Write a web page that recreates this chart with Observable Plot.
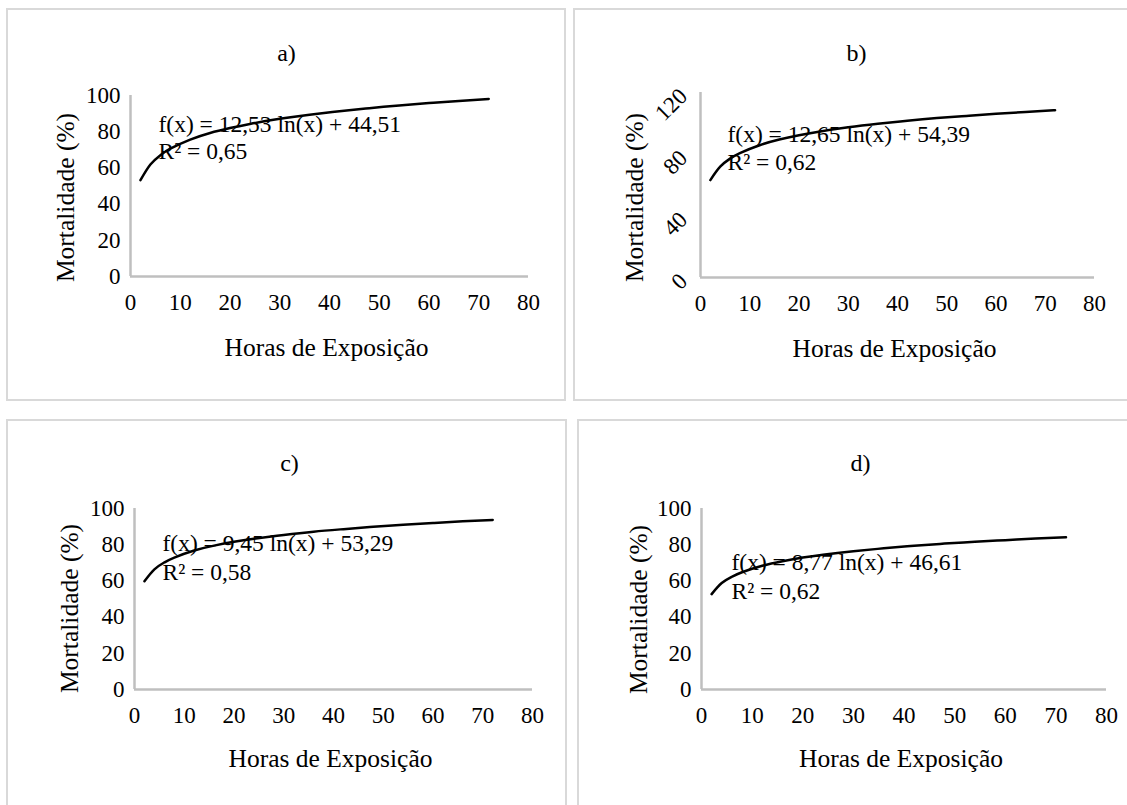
<!DOCTYPE html>
<html>
<head>
<meta charset="utf-8">
<script src="https://cdn.jsdelivr.net/npm/d3@7"></script>
<script src="https://cdn.jsdelivr.net/npm/@observablehq/plot@0.6"></script>
<style>
  html, body { margin: 0; padding: 0; background: #fff; }
  body { position: relative; width: 1127px; height: 805px; overflow: hidden; }
  .panel { position: absolute; box-sizing: border-box; border: 2px solid #d9d9d9; background: transparent; }
  svg text { font-family: 'Liberation Serif', 'Times New Roman', serif !important; }
</style>
</head>
<body>
<script>
// ---- data ----
const hours = [2, 4, 6, 8, 12, 16, 20, 24, 30, 36, 42, 48, 54, 60, 66, 72];
const mortA = [53.2, 61.9, 67.0, 70.6, 75.6, 79.3, 82.0, 84.3, 87.1, 89.4, 91.3, 93.0, 94.5, 95.8, 97.0, 98.1];
const mortB = [63.2, 71.9, 77.1, 80.7, 85.8, 89.5, 92.3, 94.6, 97.4, 99.7, 101.7, 103.4, 104.8, 106.2, 107.4, 108.5];
const mortC = [59.8, 66.4, 70.2, 72.9, 76.8, 79.5, 81.6, 83.3, 85.4, 87.2, 88.6, 89.9, 91.0, 92.0, 92.9, 93.7];
const mortD = [52.7, 58.8, 62.3, 64.8, 68.4, 70.9, 72.9, 74.5, 76.4, 78.0, 79.4, 80.6, 81.6, 82.5, 83.4, 84.1];

const panelLabels = ["a)", "b)", "c)", "d)"];
const equations = [
  "f(x) = 12,53 ln(x) + 44,51",
  "f(x) = 12,65 ln(x) + 54,39",
  "f(x) = 9,45 ln(x) + 53,29",
  "f(x) = 8,77 ln(x) + 46,61"
];
const r2Labels = ["R² = 0,65", "R² = 0,62", "R² = 0,58", "R² = 0,62"];
const xTicks = [0, 10, 20, 30, 40, 50, 60, 70, 80];
const yTicks100 = [0, 20, 40, 60, 80, 100];
const yTicks120 = [0, 40, 80, 120];
const xTitle = "Horas de Exposição";
const yTitle = "Mortalidade (%)";

// ---- layout (page pixels) ----
const W = 1127, H = 805;
const FONT = "'Liberation Serif', 'Times New Roman', serif";
const layouts = [
  { box: [6, 8, 560, 393], plot: [130, 95, 528, 276], title: [286, 53], xt: 347, yt: [65, 197], eq: [158, 124, 151], series: mortA, yMax: 100, yTicks: yTicks100, rot: 0 },
  { box: [573, 8, 560, 393], plot: [700, 92, 1094, 277], title: [856, 53], xt: 348, yt: [634, 197], eq: [727, 134, 162], series: mortB, yMax: 120, yTicks: yTicks120, rot: -45 },
  { box: [6, 419, 561, 400], plot: [134, 508, 532, 689], title: [289, 463], xt: 758, yt: [69, 608], eq: [162, 543, 572], series: mortC, yMax: 100, yTicks: yTicks100, rot: 0 },
  { box: [577, 419, 560, 400], plot: [701, 508, 1106, 689], title: [860, 463], xt: 758, yt: [638, 609], eq: [731, 562, 591], series: mortD, yMax: 100, yTicks: yTicks100, rot: 0 }
];

layouts.forEach((L, i) => {
  const div = document.createElement("div");
  div.className = "panel";
  div.style.left = L.box[0] + "px";
  div.style.top = L.box[1] + "px";
  div.style.width = L.box[2] + "px";
  div.style.height = L.box[3] + "px";
  document.body.appendChild(div);

  const [pl, pt, pr, pb] = L.plot;
  const data = hours.map((h, k) => ({ h, m: L.series[k] }));
  const at = (px, py) => ({ frameAnchor: "top-left", dx: px - pl, dy: py - pt });

  const chart = Plot.plot({
    width: W,
    height: H,
    marginLeft: pl,
    marginTop: pt,
    marginRight: W - pr,
    marginBottom: H - pb,
    style: { fontFamily: FONT, fontSize: "23px", color: "black", background: "transparent", overflow: "visible" },
    x: { domain: [0, 80] },
    y: { domain: [0, L.yMax] },
    marks: [
      Plot.ruleY([0], { stroke: "#bfbfbf", strokeWidth: 2.5 }),
      Plot.ruleX([0], { stroke: "#bfbfbf", strokeWidth: 2.5 }),
      Plot.axisX({ ticks: xTicks, tickSize: 0, tickPadding: 17, label: null, fontSize: 23, fontFamily: FONT, fill: "black" }),
      Plot.axisY({ ticks: L.yTicks, tickSize: 0, tickPadding: L.rot ? 17 : 10, tickRotate: L.rot, label: null, fontSize: 23, fontFamily: FONT, fill: "black" }),
      Plot.line(data, { x: "h", y: "m", curve: "natural", stroke: "black", strokeWidth: 2.5 }),
      Plot.text([panelLabels[i]], { ...at(L.title[0], L.title[1]), textAnchor: "middle", lineAnchor: "middle", fontSize: 24, fontFamily: FONT, fill: "black" }),
      Plot.text([xTitle], { ...at((pl + pr) / 2 - 3, L.xt), textAnchor: "middle", lineAnchor: "middle", fontSize: 25.5, fontFamily: FONT, fill: "black" }),
      Plot.text([yTitle], { ...at(L.yt[0], L.yt[1]), rotate: -90, textAnchor: "middle", lineAnchor: "middle", fontSize: 25.5, fontFamily: FONT, fill: "black" }),
      Plot.text([equations[i]], { ...at(L.eq[0], L.eq[1]), textAnchor: "start", lineAnchor: "middle", fontSize: 23.5, fontFamily: FONT, fill: "black" }),
      Plot.text([r2Labels[i]], { ...at(L.eq[0], L.eq[2]), textAnchor: "start", lineAnchor: "middle", fontSize: 23.5, fontFamily: FONT, fill: "black" })
    ]
  });
  chart.style.position = "absolute";
  chart.style.left = "0px";
  chart.style.top = "0px";
  document.body.appendChild(chart);
});
</script>
</body>
</html>
